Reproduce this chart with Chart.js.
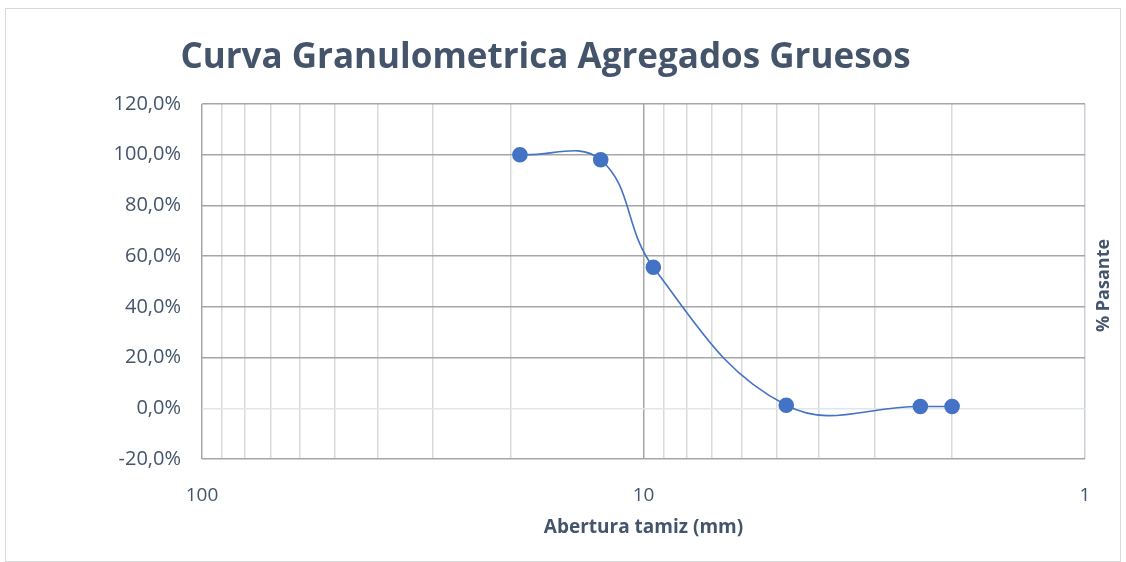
<!DOCTYPE html>
<html>
<head>
<meta charset="utf-8">
<script src="https://cdn.jsdelivr.net/npm/chart.js@4.4.0/dist/chart.umd.min.js"></script>
<style>
  html, body { margin: 0; padding: 0; background: #fff; }
  #box { position: absolute; left: 5px; top: 8px; width: 1114px; height: 552px; border: 1px solid #d9d9d9; }
</style>
</head>
<body>
<div id="box"><canvas id="chart"></canvas></div>
<script>
// sieve openings (mm) and % passing
const aberturas = [19.05, 12.5, 9.5, 4.75, 2.36, 2.0];
const pasante = [100.0, 98.0, 55.6, 1.2, 0.7, 0.7];

// log axis grid positions and the ones that get a label
const xTicks = [1, 2, 3, 4, 5, 6, 7, 8, 9, 10, 20, 30, 40, 50, 60, 70, 80, 90, 100];
const xLabels = [1, 10, 100];
const yTicks = [-20, 0, 20, 40, 60, 80, 100, 120];

const textColor = '#44546a';

// "% Pasante" sits on the right, reading upwards
const rightTitle = {
  id: 'rightTitle',
  afterDraw(chart) {
    const { ctx, chartArea } = chart;
    ctx.save();
    ctx.translate(1098, (chartArea.top + chartArea.bottom) / 2 + 4);
    ctx.rotate(-Math.PI / 2);
    ctx.font = 'bold 18px "Open Sans"';
    ctx.fillStyle = textColor;
    ctx.textAlign = 'center';
    ctx.textBaseline = 'middle';
    ctx.fillText('% Pasante', 0, 0);
    ctx.restore();
  }
};

const ctx = document.getElementById('chart').getContext('2d');
new Chart(ctx, {
  type: 'line',
  data: {
    datasets: [{
      label: '% Pasante',
      data: aberturas.map((x, i) => ({ x: x, y: pasante[i] })),
      borderColor: '#4472c4',
      backgroundColor: '#4472c4',
      borderWidth: 1.6,
      pointRadius: 7,
      pointHoverRadius: 7,
      pointBackgroundColor: '#4472c4',
      pointBorderColor: '#4472c4',
      tension: 0.4,
      fill: false
    }]
  },
  options: {
    responsive: true,
    maintainAspectRatio: false,
    animation: false,
    layout: { padding: { right: 35 } },
    plugins: {
      legend: { display: false },
      tooltip: { enabled: false },
      title: {
        display: true,
        text: 'Curva Granulometrica Agregados Gruesos',
        color: textColor,
        font: { family: '"Open Sans"', size: 35, weight: 'bold' },
        padding: { top: 28, bottom: 25 }
      }
    },
    scales: {
      x: {
        type: 'logarithmic',
        reverse: true,
        min: 1,
        max: 100,
        afterBuildTicks: (scale) => {
          scale.ticks = xTicks.map(v => ({ value: v, major: xLabels.includes(v) }));
        },
        afterFit: (scale) => { scale.height = 102; },
        border: { display: false },
        grid: {
          drawTicks: false,
          lineWidth: 1.5,
          color: (c) => {
            const v = c.tick ? c.tick.value : null;
            if (v === 10 || v === 100) return '#a6a6a6';
            if (v === 1) return '#c9d0d9';
            return '#d9d9d9';
          }
        },
        ticks: {
          autoSkip: false,
          maxRotation: 0,
          padding: 25,
          color: textColor,
          font: { family: '"Open Sans"', size: 19 },
          callback: (v) => xLabels.includes(v) ? String(v) : ''
        },
        title: {
          display: true,
          text: 'Abertura tamiz (mm)',
          color: textColor,
          font: { family: '"Open Sans"', size: 19, weight: 'bold' },
          padding: { top: 0, bottom: 22 }
        }
      },
      y: {
        min: -20,
        max: 120,
        afterBuildTicks: (scale) => {
          scale.ticks = yTicks.map(v => ({ value: v }));
        },
        afterFit: (scale) => { scale.width = 196; },
        border: { display: false },
        grid: {
          drawTicks: false,
          lineWidth: 1.5,
          color: (c) => (c.tick && c.tick.value === 0) ? '#e1e6ec' : '#a6a6a6'
        },
        ticks: {
          padding: 21,
          color: textColor,
          font: { family: '"Open Sans"', size: 20 },
          callback: (v) => v.toFixed(1).replace('.', ',') + '%'
        }
      }
    }
  },
  plugins: [rightTitle]
});
</script>
</body>
</html>
